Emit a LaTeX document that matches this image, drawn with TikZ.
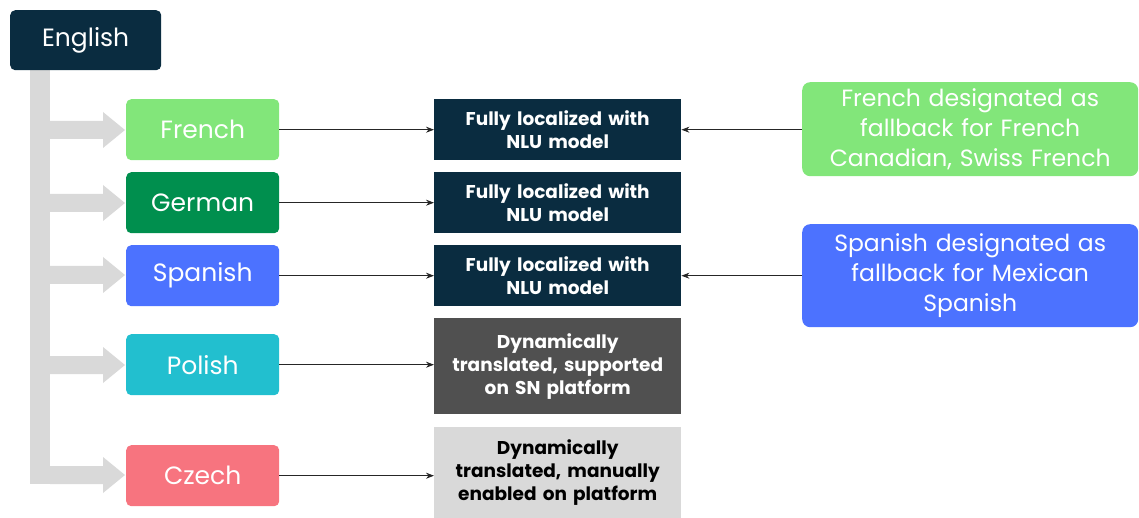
\documentclass[tikz,border=0pt]{standalone}
\usepackage{fontspec}
\setmainfont{Poppins}
\usetikzlibrary{arrows.meta}
\definecolor{navy}{HTML}{0A2C40}
\definecolor{lgreen}{HTML}{82E67A}
\definecolor{dgreen}{HTML}{008F4E}
\definecolor{blu}{HTML}{4C72FF}
\definecolor{teal}{HTML}{22BFCF}
\definecolor{pink}{HTML}{F7747F}
\definecolor{dgray}{HTML}{505050}
\definecolor{lgray}{HTML}{D9D9D9}
\definecolor{stemgray}{HTML}{D9D9D9}
\tikzset{
  lang/.style={rounded corners=5pt, draw=none, text=white, minimum width=153pt, minimum height=61pt, anchor=north west, font=\fontsize{25}{28}\selectfont, inner sep=0pt},
  res/.style={draw=none, text=white, text width=245pt, align=center, minimum width=247pt, anchor=north west, font=\bfseries\fontsize{18.5}{23}\selectfont, inner sep=0pt},
  fb/.style={rounded corners=8pt, draw=none, text=white, text width=330pt, align=center, minimum width=336pt, anchor=north west, font=\fontsize{23.5}{30}\selectfont, inner sep=0pt},
  conn/.style={draw=black!85, line width=0.9pt, -{Stealth[length=8pt,width=6pt]}},
}
\begin{document}
\begin{tikzpicture}[x=1pt,y=-1pt]
\useasboundingbox (0,0) rectangle (1139,518);
% gray stem and branches
\fill[stemgray] (30,70) rectangle (50,484);
\foreach \c in {130,203,275,365,475}{
  \fill[stemgray] (50,\c-9) -- (103,\c-9) -- (103,\c-18) -- (125,\c) -- (103,\c+18) -- (103,\c+9) -- (50,\c+9) -- cycle;
}
% English
\node[lang, fill=navy, minimum width=151pt, minimum height=60pt] (en) at (10,10) {English};
% languages
\node[lang, fill=lgreen] (fr) at (126,99) {French};
\node[lang, fill=dgreen] (de) at (126,172) {German};
\node[lang, fill=blu] (es) at (126,245) {Spanish};
\node[lang, fill=teal] (pl) at (126,334) {Polish};
\node[lang, fill=pink] (cz) at (126,445) {Czech};
% results
\node[res, fill=navy, minimum height=61pt] (r1) at (434,99) {Fully localized with\\NLU model};
\node[res, fill=navy, minimum height=61pt] (r2) at (434,172) {Fully localized with\\NLU model};
\node[res, fill=navy, minimum height=61pt] (r3) at (434,245) {Fully localized with\\NLU model};
\node[res, fill=dgray, minimum height=96pt] (r4) at (434,318) {Dynamically\\translated, supported\\on SN platform};
\node[res, fill=lgray, text=black, minimum height=91pt] (r5) at (434,427) {Dynamically\\translated, manually\\enabled on platform};
% fallbacks
\node[fb, fill=lgreen, minimum height=94pt] (f1) at (802,82) {French designated as\\fallback for French\\Canadian, Swiss French};
\node[fb, fill=blu, minimum height=103pt] (f2) at (802,224) {Spanish designated as\\fallback for Mexican\\Spanish};
% connectors
\draw[conn] (fr.east) -- (r1.west);
\draw[conn] (de.east) -- (r2.west);
\draw[conn] (es.east) -- (r3.west);
\draw[conn] (pl.east) -- (pl.east -| r4.west);
\draw[conn] (cz.east) -- (cz.east -| r5.west);
\draw[conn] (f1.west |- r1.east) -- (r1.east);
\draw[conn] (f2.west |- r3.east) -- (r3.east);
\end{tikzpicture}
\end{document}
